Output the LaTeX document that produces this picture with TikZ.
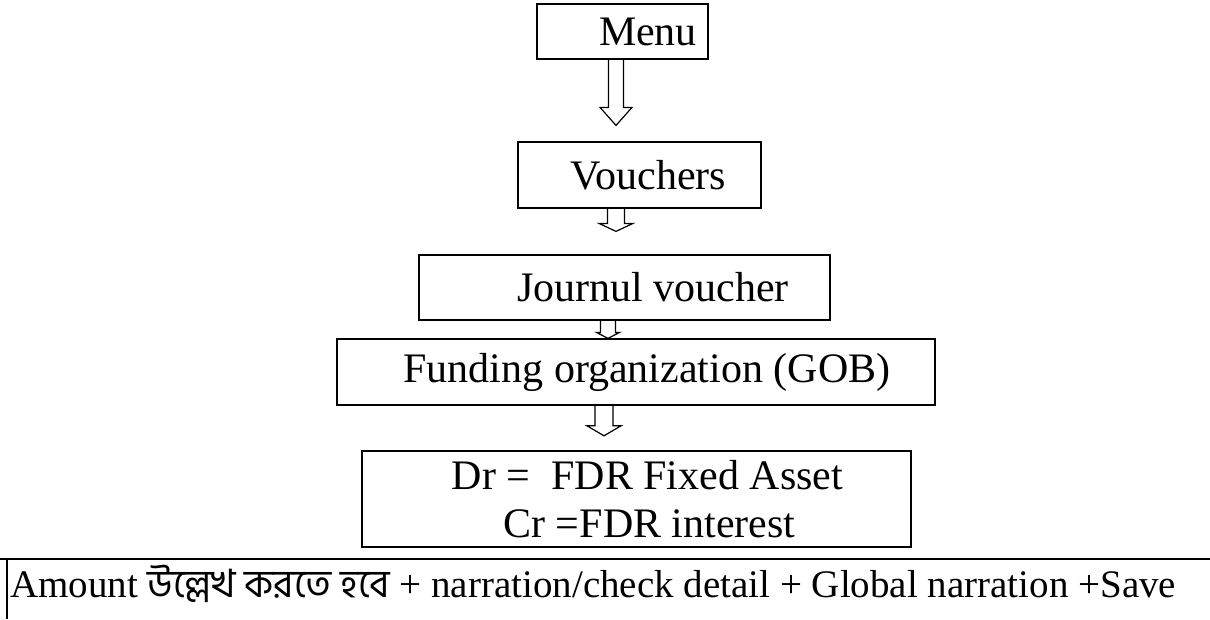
\documentclass[tikz,border=0pt]{standalone}
\usepackage{fontspec}
\setmainfont{Liberation Serif}
\newfontfamily\bnfont[Script=Bengali]{Hind Siliguri}
\usetikzlibrary{calc}
\newcommand\hollowarr[7]{%
  \draw[arrowline] let \p1=(#2.south), \p2=(#3.north) in
    (#1pt-#4pt,\y1) -- (#1pt-#4pt,\y2+#7pt+#6pt) -- (#1pt-#5pt,\y2+#7pt+#6pt)
    -- (#1pt,\y2+#7pt) -- (#1pt+#5pt,\y2+#7pt+#6pt) -- (#1pt+#4pt,\y2+#7pt+#6pt)
    -- (#1pt+#4pt,\y1);}
\begin{document}
\begin{tikzpicture}[x=1pt,y=-1pt,
  box/.style={draw, line width=1.2pt, inner sep=0pt, font=\fontsize{42}{48}\selectfont},
  heavybox/.style={draw, line width=2.4pt, inner sep=0pt, align=center, font=\fontsize{42}{48}\selectfont},
  arrowline/.style={draw, line width=1.2pt, line join=miter},
  edge/.style={line width=2pt}]
\useasboundingbox (0,0) rectangle (1210,619);
\node[box, minimum width=171pt, minimum height=55pt] (menu) at (622.5,31.5) {\hspace*{51pt}Menu};
\node[box, minimum width=243pt, minimum height=66pt] (vouch) at (639.5,175) {\hspace*{18pt}Vouchers};
\node[box, minimum width=411pt, minimum height=65pt] (journ) at (624.5,287.5) {\hspace*{57pt}Journul voucher};
\node[box, minimum width=598pt, minimum height=66pt] (fund) at (636,372) {\hspace*{22pt}Funding organization (GOB)};
\node[heavybox, minimum width=549pt, minimum height=96pt] (drcr) at (636.5,499) {\hspace*{22pt}Dr =\ \ FDR Fixed Asset\\\hspace*{26pt}Cr =FDR interest};
\hollowarr{616}{menu}{vouch}{7.5}{16}{18}{16}
\hollowarr{616}{vouch}{journ}{8.5}{17}{8}{23}
\hollowarr{608}{journ}{fund}{7.5}{11.5}{6}{0}
\hollowarr{604}{fund}{drcr}{9}{17}{10}{14}
\coordinate (tl) at (0,559);
\coordinate (tr) at (1210,559);
\coordinate (lt) at (7,559);
\coordinate (lb) at (7,619);
\draw[edge] (tl) -- (tr);
\draw[edge] (lt) -- (lb);
\node[anchor=base west, inner sep=0pt, font=\fontsize{39}{40}\selectfont] (note) at (10,597)
  {Amount {\bnfont উল্লেখ করতে হবে} + narration/check detail + Global narration +Save};
\end{tikzpicture}
\end{document}
